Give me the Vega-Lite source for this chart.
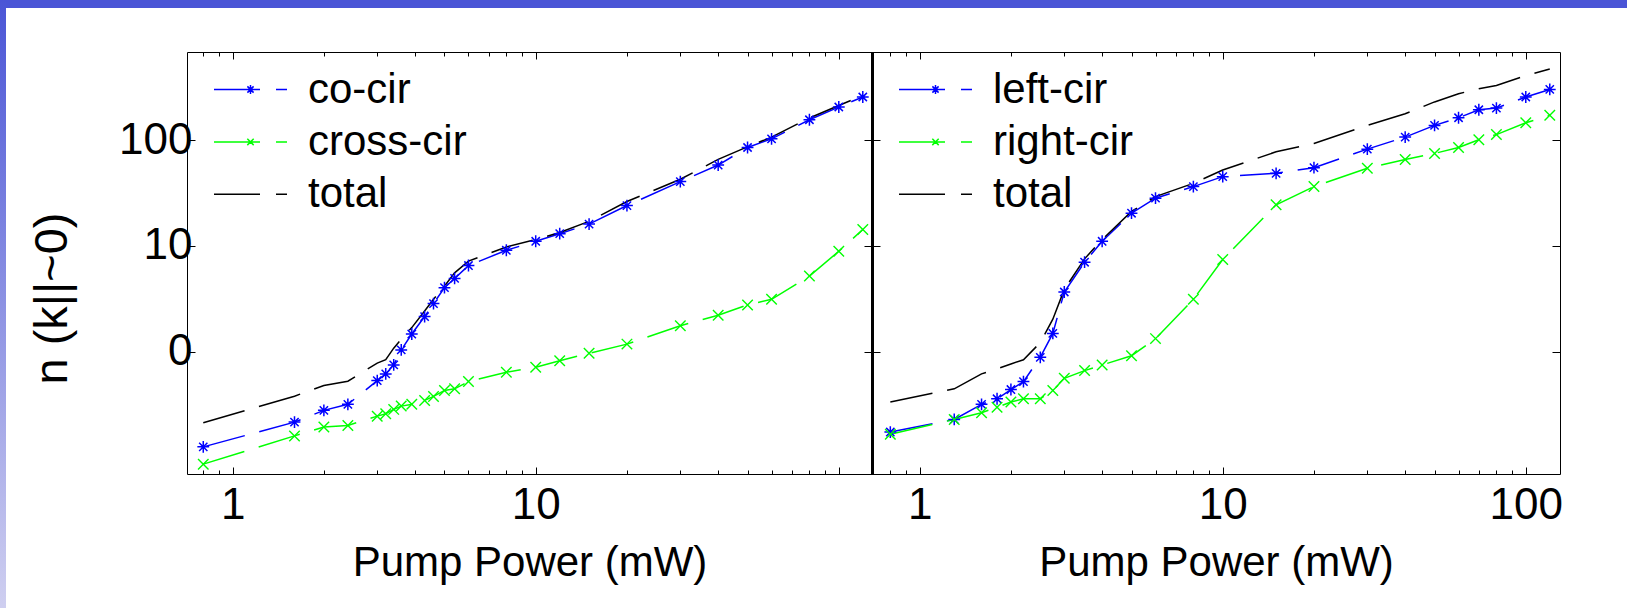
{
  "$schema": "https://vega.github.io/schema/vega-lite/v6.json",
  "background": "white",
  "padding": 0,
  "spacing": 0,
  "bounds": "flush",
  "config": {
    "view": {"stroke": "black", "strokeWidth": 1},
    "font": "Liberation Sans",
    "axis": {
      "labelFont": "Liberation Sans",
      "titleFont": "Liberation Sans",
      "labelFontSize": 44,
      "titleFontSize": 42,
      "titleFontWeight": "normal",
      "labelColor": "black",
      "titleColor": "black",
      "tickColor": "black",
      "domainColor": "black",
      "grid": false,
      "domain": false,
      "tickWidth": 1
    },
    "legend": {
      "labelFont": "Liberation Sans",
      "labelFontSize": 42,
      "labelColor": "black",
      "labelLimit": 0
    }
  },
  "datasets": {
    "left": [
      {"x": 0.8, "y": 0.126, "series": "co-cir"},
      {"x": 1.6, "y": 0.216, "series": "co-cir"},
      {"x": 2.0, "y": 0.279, "series": "co-cir"},
      {"x": 2.4, "y": 0.318, "series": "co-cir"},
      {"x": 3.0, "y": 0.533, "series": "co-cir"},
      {"x": 3.2, "y": 0.617, "series": "co-cir"},
      {"x": 3.4, "y": 0.75, "series": "co-cir"},
      {"x": 3.6, "y": 1.04, "series": "co-cir"},
      {"x": 3.9, "y": 1.47, "series": "co-cir"},
      {"x": 4.3, "y": 2.15, "series": "co-cir"},
      {"x": 4.6, "y": 2.85, "series": "co-cir"},
      {"x": 5.0, "y": 4.03, "series": "co-cir"},
      {"x": 5.4, "y": 4.93, "series": "co-cir"},
      {"x": 6.0, "y": 6.53, "series": "co-cir"},
      {"x": 8.0, "y": 9.1, "series": "co-cir"},
      {"x": 10, "y": 11.07, "series": "co-cir"},
      {"x": 12, "y": 13.06, "series": "co-cir"},
      {"x": 15, "y": 16.1, "series": "co-cir"},
      {"x": 20, "y": 24.1, "series": "co-cir"},
      {"x": 30, "y": 40.6, "series": "co-cir"},
      {"x": 40, "y": 58.2, "series": "co-cir"},
      {"x": 50, "y": 85.3, "series": "co-cir"},
      {"x": 60, "y": 103, "series": "co-cir"},
      {"x": 80, "y": 156, "series": "co-cir"},
      {"x": 100, "y": 206, "series": "co-cir"},
      {"x": 120, "y": 256, "series": "co-cir"},
      {"x": 0.8, "y": 0.0865, "series": "cross-cir"},
      {"x": 1.6, "y": 0.16, "series": "cross-cir"},
      {"x": 2.0, "y": 0.194, "series": "cross-cir"},
      {"x": 2.4, "y": 0.201, "series": "cross-cir"},
      {"x": 3.0, "y": 0.246, "series": "cross-cir"},
      {"x": 3.2, "y": 0.259, "series": "cross-cir"},
      {"x": 3.4, "y": 0.285, "series": "cross-cir"},
      {"x": 3.6, "y": 0.306, "series": "cross-cir"},
      {"x": 3.9, "y": 0.318, "series": "cross-cir"},
      {"x": 4.3, "y": 0.346, "series": "cross-cir"},
      {"x": 4.6, "y": 0.378, "series": "cross-cir"},
      {"x": 5.0, "y": 0.43, "series": "cross-cir"},
      {"x": 5.4, "y": 0.446, "series": "cross-cir"},
      {"x": 6.0, "y": 0.522, "series": "cross-cir"},
      {"x": 8.0, "y": 0.64, "series": "cross-cir"},
      {"x": 10, "y": 0.712, "series": "cross-cir"},
      {"x": 12, "y": 0.823, "series": "cross-cir"},
      {"x": 15, "y": 0.965, "series": "cross-cir"},
      {"x": 20, "y": 1.18, "series": "cross-cir"},
      {"x": 30, "y": 1.76, "series": "cross-cir"},
      {"x": 40, "y": 2.21, "series": "cross-cir"},
      {"x": 50, "y": 2.77, "series": "cross-cir"},
      {"x": 60, "y": 3.13, "series": "cross-cir"},
      {"x": 80, "y": 5.19, "series": "cross-cir"},
      {"x": 100, "y": 8.91, "series": "cross-cir"},
      {"x": 120, "y": 14.3, "series": "cross-cir"},
      {"x": 0.8, "y": 0.213, "series": "total"},
      {"x": 1.6, "y": 0.38, "series": "total"},
      {"x": 2.0, "y": 0.479, "series": "total"},
      {"x": 2.4, "y": 0.526, "series": "total"},
      {"x": 3.0, "y": 0.78, "series": "total"},
      {"x": 3.2, "y": 0.84, "series": "total"},
      {"x": 3.4, "y": 1.08, "series": "total"},
      {"x": 3.6, "y": 1.31, "series": "total"},
      {"x": 3.9, "y": 1.69, "series": "total"},
      {"x": 4.3, "y": 2.43, "series": "total"},
      {"x": 4.6, "y": 3.13, "series": "total"},
      {"x": 5.0, "y": 4.18, "series": "total"},
      {"x": 5.4, "y": 5.57, "series": "total"},
      {"x": 6.0, "y": 7.18, "series": "total"},
      {"x": 8.0, "y": 9.78, "series": "total"},
      {"x": 10, "y": 11.5, "series": "total"},
      {"x": 12, "y": 13.4, "series": "total"},
      {"x": 15, "y": 17.1, "series": "total"},
      {"x": 20, "y": 26.3, "series": "total"},
      {"x": 30, "y": 42.7, "series": "total"},
      {"x": 40, "y": 65.8, "series": "total"},
      {"x": 50, "y": 86.6, "series": "total"},
      {"x": 60, "y": 107, "series": "total"},
      {"x": 80, "y": 162, "series": "total"},
      {"x": 100, "y": 213, "series": "total"},
      {"x": 120, "y": 265, "series": "total"}
    ],
    "right": [
      {"x": 0.8, "y": 0.174, "series": "left-cir"},
      {"x": 1.3, "y": 0.229, "series": "left-cir"},
      {"x": 1.6, "y": 0.318, "series": "left-cir"},
      {"x": 1.8, "y": 0.359, "series": "left-cir"},
      {"x": 2.0, "y": 0.439, "series": "left-cir"},
      {"x": 2.2, "y": 0.522, "series": "left-cir"},
      {"x": 2.5, "y": 0.885, "series": "left-cir"},
      {"x": 2.75, "y": 1.49, "series": "left-cir"},
      {"x": 3.0, "y": 3.67, "series": "left-cir"},
      {"x": 3.5, "y": 7.02, "series": "left-cir"},
      {"x": 4.0, "y": 11.07, "series": "left-cir"},
      {"x": 5.0, "y": 20.4, "series": "left-cir"},
      {"x": 6.0, "y": 28.3, "series": "left-cir"},
      {"x": 8.0, "y": 36.4, "series": "left-cir"},
      {"x": 10, "y": 45.2, "series": "left-cir"},
      {"x": 15, "y": 48.6, "series": "left-cir"},
      {"x": 20, "y": 55, "series": "left-cir"},
      {"x": 30, "y": 82.3, "series": "left-cir"},
      {"x": 40, "y": 107, "series": "left-cir"},
      {"x": 50, "y": 138, "series": "left-cir"},
      {"x": 60, "y": 163, "series": "left-cir"},
      {"x": 70, "y": 194, "series": "left-cir"},
      {"x": 80, "y": 201, "series": "left-cir"},
      {"x": 100, "y": 256, "series": "left-cir"},
      {"x": 120, "y": 302, "series": "left-cir"},
      {"x": 0.8, "y": 0.166, "series": "right-cir"},
      {"x": 1.3, "y": 0.229, "series": "right-cir"},
      {"x": 1.6, "y": 0.265, "series": "right-cir"},
      {"x": 1.8, "y": 0.299, "series": "right-cir"},
      {"x": 2.0, "y": 0.334, "series": "right-cir"},
      {"x": 2.2, "y": 0.359, "series": "right-cir"},
      {"x": 2.5, "y": 0.359, "series": "right-cir"},
      {"x": 2.75, "y": 0.43, "series": "right-cir"},
      {"x": 3.0, "y": 0.561, "series": "right-cir"},
      {"x": 3.5, "y": 0.663, "series": "right-cir"},
      {"x": 4.0, "y": 0.749, "series": "right-cir"},
      {"x": 5.0, "y": 0.917, "series": "right-cir"},
      {"x": 6.0, "y": 1.33, "series": "right-cir"},
      {"x": 8.0, "y": 3.13, "series": "right-cir"},
      {"x": 10, "y": 7.44, "series": "right-cir"},
      {"x": 15, "y": 24.5, "series": "right-cir"},
      {"x": 20, "y": 36.4, "series": "right-cir"},
      {"x": 30, "y": 54.2, "series": "right-cir"},
      {"x": 40, "y": 65.8, "series": "right-cir"},
      {"x": 50, "y": 75, "series": "right-cir"},
      {"x": 60, "y": 85.3, "series": "right-cir"},
      {"x": 70, "y": 101, "series": "right-cir"},
      {"x": 80, "y": 113, "series": "right-cir"},
      {"x": 100, "y": 146, "series": "right-cir"},
      {"x": 120, "y": 172, "series": "right-cir"},
      {"x": 0.8, "y": 0.334, "series": "total"},
      {"x": 1.3, "y": 0.446, "series": "total"},
      {"x": 1.6, "y": 0.617, "series": "total"},
      {"x": 1.8, "y": 0.687, "series": "total"},
      {"x": 2.0, "y": 0.766, "series": "total"},
      {"x": 2.2, "y": 0.84, "series": "total"},
      {"x": 2.5, "y": 1.22, "series": "total"},
      {"x": 2.75, "y": 2.03, "series": "total"},
      {"x": 3.0, "y": 3.88, "series": "total"},
      {"x": 3.5, "y": 7.55, "series": "total"},
      {"x": 4.0, "y": 11.5, "series": "total"},
      {"x": 5.0, "y": 21.2, "series": "total"},
      {"x": 6.0, "y": 29.3, "series": "total"},
      {"x": 8.0, "y": 39.1, "series": "total"},
      {"x": 10, "y": 52.2, "series": "total"},
      {"x": 15, "y": 77.6, "series": "total"},
      {"x": 20, "y": 93, "series": "total"},
      {"x": 30, "y": 138, "series": "total"},
      {"x": 40, "y": 178, "series": "total"},
      {"x": 50, "y": 230, "series": "total"},
      {"x": 60, "y": 275, "series": "total"},
      {"x": 70, "y": 306, "series": "total"},
      {"x": 80, "y": 329, "series": "total"},
      {"x": 100, "y": 408, "series": "total"},
      {"x": 120, "y": 472, "series": "total"}
    ]
  },
  "hconcat": [
    {
      "width": 6,
      "height": 608,
      "view": {"stroke": null, "fill": {"gradient": "linear", "x1": 0, "y1": 0, "x2": 0, "y2": 1,
        "stops": [{"offset": 0, "color": "#4a55d6"}, {"offset": 1, "color": "#cfcff0"}]}},
      "data": {"values": []},
      "mark": "point"
    },
    {
      "spacing": 0,
      "bounds": "flush",
      "vconcat": [
        {
          "width": 1621,
          "height": 8,
          "view": {"stroke": null, "fill": "#4a55d6"},
          "data": {"values": []},
          "mark": "point"
        },
        {
          "width": 10,
          "height": 44,
          "view": {"stroke": null},
          "data": {"values": []},
          "mark": "point"
        },
        {
          "spacing": 0,
          "bounds": "flush",
          "resolve": {"scale": {"x": "independent", "y": "independent", "color": "independent"}, "legend": {"color": "independent"}},
          "hconcat": [
            {
              "width": 181,
              "height": 422,
              "view": {"stroke": null},
              "data": {"values": []},
              "mark": "point"
            },
            {
              "width": 685,
              "height": 422,
              "data": {"name": "left"},
              "resolve": {"axis": {"x": "independent", "y": "independent"}},
              "layer": [
                {
                  "mark": {"type": "line", "strokeWidth": 1.5, "strokeDash": [43, 15]},
                  "encoding": {
                    "x": {"field": "x", "type": "quantitative",
                      "scale": {"type": "log", "domain": [0.707, 128.7], "nice": false},
                      "axis": {"orient": "bottom", "title": "Pump Power (mW)",
                        "values": [0.8, 0.9, 1, 2, 3, 4, 5, 6, 7, 8, 9, 10, 20, 30, 40, 50, 60, 70, 80, 90, 100],
                        "labelExpr": "datum.value == 1 ? '1' : datum.value == 10 ? '10' : ''",
                        "tickSize": {"condition": {"test": "datum.value == 1 || datum.value == 10 || datum.value == 100", "value": -7}, "value": -4},
                        "labelBaseline": "alphabetic", "labelPadding": 51, "labelFlush": false, "labelOverlap": false,
                        "titleBaseline": "alphabetic", "titleY": 101}},
                    "y": {"field": "y", "type": "quantitative",
                      "scale": {"type": "log", "domain": [0.0698, 682], "nice": false},
                      "axis": {"orient": "left", "title": "n (k||~0)", "titleFontSize": 47,
                        "values": [1, 10, 100],
                        "labelExpr": "datum.value == 1 ? '0' : datum.value == 10 ? '10' : '100'",
                        "tickSize": -8, "labelPadding": 3, "labelBaseline": "middle",
                        "titleAngle": -90, "titleX": -135, "titleY": 246, "titleAlign": "center", "titleBaseline": "middle"}},
                    "color": {"field": "series", "type": "nominal",
                      "scale": {"domain": ["co-cir", "cross-cir", "total"], "range": ["#0000ff", "#00ff00", "#000000"]},
                      "legend": {"title": null, "orient": "none", "legendX": 42.5, "legendY": 16.5, "padding": 0,
                        "symbolSize": 1600, "symbolStrokeWidth": 1.5, "symbolDash": [], "labelOffset": 36.5, "rowPadding": 10.4,
                        "symbolFillColor": "transparent", "symbolOpacity": 1,
                        "encode": {"symbols": {"update": {
                          "shape": {"signal": "datum.value == 'co-cir' ? 'M-1.825,0H0.475M1.275,0H1.825M-0.22,0H0.22M0,-0.22V0.22M-0.155,-0.155L0.155,0.155M-0.155,0.155L0.155,-0.155' : datum.value == 'cross-cir' ? 'M-1.825,0H0.475M1.275,0H1.825M-0.16,-0.16L0.16,0.16M-0.16,0.16L0.16,-0.16' : 'M-1.825,0H0.475M1.275,0H1.825'"},
                          "strokeDash": {"value": []},
                          "fill": {"value": "transparent"}, "opacity": {"value": 1}}}}}}
                  }
                },
                {
                  "transform": [{"filter": "datum.series == 'co-cir'"}],
                  "mark": {"type": "point", "filled": false, "color": "#0000ff", "strokeWidth": 1.5, "size": 140, "opacity": 1,
                    "shape": "M-1,0L1,0M0,-1L0,1M-0.7,-0.7L0.7,0.7M-0.7,0.7L0.7,-0.7"},
                  "encoding": {
                    "x": {"field": "x", "type": "quantitative",
                      "axis": {"orient": "top", "title": null, "labels": false,
                        "values": [0.8, 0.9, 1, 2, 3, 4, 5, 6, 7, 8, 9, 10, 20, 30, 40, 50, 60, 70, 80, 90, 100],
                        "tickSize": {"condition": {"test": "datum.value == 1 || datum.value == 10 || datum.value == 100", "value": -7}, "value": -4}}},
                    "y": {"field": "y", "type": "quantitative",
                      "axis": {"orient": "right", "title": null, "labels": false, "values": [1, 10, 100], "tickSize": -8,
                        "domain": true, "domainWidth": 3}}
                  }
                },
                {
                  "transform": [{"filter": "datum.series == 'cross-cir'"}],
                  "mark": {"type": "point", "filled": false, "color": "#00ff00", "strokeWidth": 1.4, "size": 110, "opacity": 1,
                    "shape": "M-1,-1L1,1M-1,1L1,-1"},
                  "encoding": {
                    "x": {"field": "x", "type": "quantitative", "axis": null},
                    "y": {"field": "y", "type": "quantitative", "axis": null}
                  }
                }
              ]
            },
            {
              "width": 688,
              "height": 422,
              "data": {"name": "right"},
              "resolve": {"axis": {"x": "independent", "y": "independent"}},
              "layer": [
                {
                  "mark": {"type": "line", "strokeWidth": 1.5, "strokeDash": [43, 15]},
                  "encoding": {
                    "x": {"field": "x", "type": "quantitative",
                      "scale": {"type": "log", "domain": [0.696, 129.7], "nice": false},
                      "axis": {"orient": "bottom", "title": "Pump Power (mW)",
                        "values": [0.8, 0.9, 1, 2, 3, 4, 5, 6, 7, 8, 9, 10, 20, 30, 40, 50, 60, 70, 80, 90, 100],
                        "labelExpr": "datum.value == 1 ? '1' : datum.value == 10 ? '10' : datum.value == 100 ? '100' : ''",
                        "tickSize": {"condition": {"test": "datum.value == 1 || datum.value == 10 || datum.value == 100", "value": -7}, "value": -4},
                        "labelBaseline": "alphabetic", "labelPadding": 51, "labelFlush": false, "labelOverlap": false,
                        "titleBaseline": "alphabetic", "titleY": 101}},
                    "y": {"field": "y", "type": "quantitative",
                      "scale": {"type": "log", "domain": [0.0698, 682], "nice": false},
                      "axis": {"orient": "left", "title": null, "labels": false,
                        "values": [1, 10, 100], "tickSize": -8, "domain": true, "domainWidth": 3}},
                    "color": {"field": "series", "type": "nominal",
                      "scale": {"domain": ["left-cir", "right-cir", "total"], "range": ["#0000ff", "#00ff00", "#000000"]},
                      "legend": {"title": null, "orient": "none", "legendX": 42.5, "legendY": 16.5, "padding": 0,
                        "symbolSize": 1600, "symbolStrokeWidth": 1.5, "symbolDash": [], "labelOffset": 36.5, "rowPadding": 10.4,
                        "symbolFillColor": "transparent", "symbolOpacity": 1,
                        "encode": {"symbols": {"update": {
                          "shape": {"signal": "datum.value == 'left-cir' ? 'M-1.825,0H0.475M1.275,0H1.825M-0.22,0H0.22M0,-0.22V0.22M-0.155,-0.155L0.155,0.155M-0.155,0.155L0.155,-0.155' : datum.value == 'right-cir' ? 'M-1.825,0H0.475M1.275,0H1.825M-0.16,-0.16L0.16,0.16M-0.16,0.16L0.16,-0.16' : 'M-1.825,0H0.475M1.275,0H1.825'"},
                          "strokeDash": {"value": []},
                          "fill": {"value": "transparent"}, "opacity": {"value": 1}}}}}}
                  }
                },
                {
                  "transform": [{"filter": "datum.series == 'left-cir'"}],
                  "mark": {"type": "point", "filled": false, "color": "#0000ff", "strokeWidth": 1.5, "size": 140, "opacity": 1,
                    "shape": "M-1,0L1,0M0,-1L0,1M-0.7,-0.7L0.7,0.7M-0.7,0.7L0.7,-0.7"},
                  "encoding": {
                    "x": {"field": "x", "type": "quantitative",
                      "axis": {"orient": "top", "title": null, "labels": false,
                        "values": [0.8, 0.9, 1, 2, 3, 4, 5, 6, 7, 8, 9, 10, 20, 30, 40, 50, 60, 70, 80, 90, 100],
                        "tickSize": {"condition": {"test": "datum.value == 1 || datum.value == 10 || datum.value == 100", "value": -7}, "value": -4}}},
                    "y": {"field": "y", "type": "quantitative",
                      "axis": {"orient": "right", "title": null, "labels": false, "values": [1, 10, 100], "tickSize": -8}}
                  }
                },
                {
                  "transform": [{"filter": "datum.series == 'right-cir'"}],
                  "mark": {"type": "point", "filled": false, "color": "#00ff00", "strokeWidth": 1.4, "size": 110, "opacity": 1,
                    "shape": "M-1,-1L1,1M-1,1L1,-1"},
                  "encoding": {
                    "x": {"field": "x", "type": "quantitative", "axis": null},
                    "y": {"field": "y", "type": "quantitative", "axis": null}
                  }
                }
              ]
            }
          ]
        }
      ]
    }
  ]
}
